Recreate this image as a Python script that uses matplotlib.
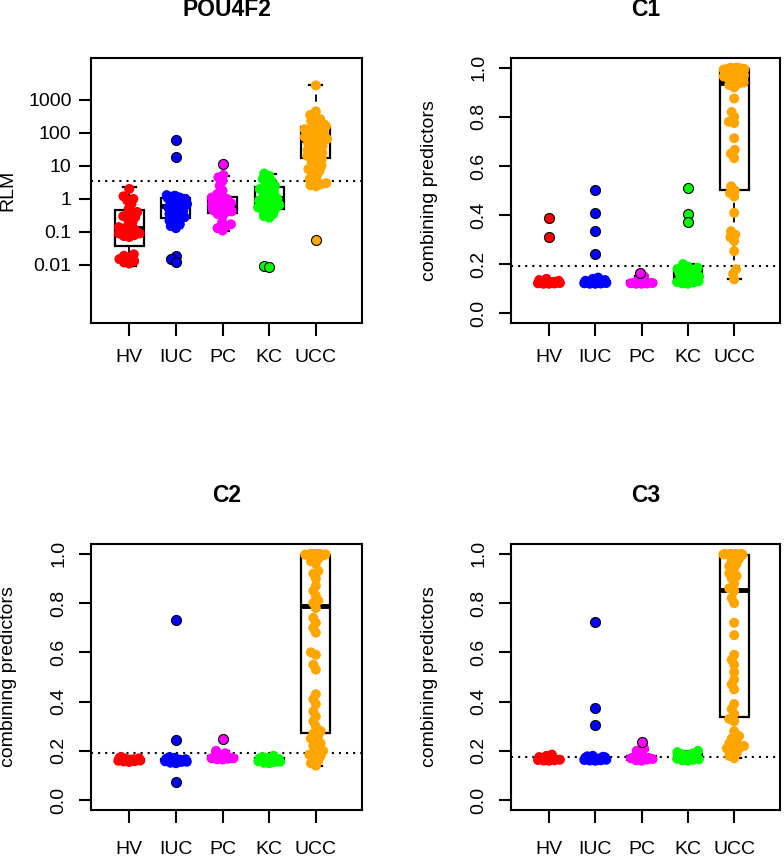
import numpy as np
import matplotlib
matplotlib.use("Agg")
import matplotlib.pyplot as plt

plt.rcParams['font.family'] = ['Liberation Sans', 'DejaVu Sans']

groups = ["HV", "IUC", "PC", "KC", "UCC"]
colors = ["#FF0000", "#0000FF", "#FF00FF", "#00FF00", "#FFA500"]

# ---------------- POU4F2 (RLM, log scale) ----------------
pou_vals = {
    "HV": [0.011, 0.012, 0.013, 0.015, 0.017, 0.019, 0.021,
           0.07, 0.075, 0.08, 0.09, 0.09, 0.10, 0.10, 0.11, 0.12, 0.12, 0.13, 0.14,
           0.16, 0.2, 0.25, 0.28, 0.3, 0.35, 0.4, 0.5, 0.7, 0.9, 1.0, 1.2, 2.0],
    "IUC": [0.13, 0.15, 0.17, 0.2, 0.22, 0.25, 0.28, 0.3, 0.35, 0.4, 0.45, 0.5, 0.55,
            0.6, 0.65, 0.7, 0.8, 0.9, 0.95, 1.0, 1.0, 1.05, 1.1, 1.15, 1.2, 1.25, 1.3],
    "PC": [0.11, 0.13, 0.15, 0.17, 0.2, 0.3, 0.35, 0.4, 0.42, 0.45, 0.5, 0.55, 0.6,
           0.65, 0.7, 0.75, 0.8, 0.9, 0.95, 1.0, 1.1, 1.2, 1.4, 1.8, 2.5, 3.5, 4.5, 5.3],
    "KC": [0.27, 0.3, 0.35, 0.4, 0.45, 0.5, 0.55, 0.6, 0.65, 0.7, 0.8, 0.85, 0.9, 0.95,
           1.0, 1.0, 1.1, 1.2, 1.4, 1.6, 1.8, 2.0, 2.2, 2.5, 3.0, 3.5, 4.0, 5.0, 5.9],
    "UCC": [2.4, 2.6, 2.8, 3.0, 3.5, 4, 5, 6, 7, 8, 9, 10, 12, 14, 16, 18, 20, 22, 25,
            28, 30, 35, 40, 45, 50, 55, 60, 65, 70, 75, 80, 85, 90, 95, 100, 110, 120,
            130, 140, 150, 160, 180, 200, 230, 260, 300, 350, 450, 2750],
}
pou_fliers = {"HV": [], "IUC": [59, 19, 0.018, 0.015, 0.012], "PC": [11.7],
              "KC": [0.0095, 0.0085], "UCC": [0.055]}
pou_whislo = [0.0092, 0.134, 0.106, 0.30, 2.4]
pou_q1 = [0.037, 0.27, 0.38, 0.50, 17.7]
pou_med = [0.134, 0.60, 0.65, 1.09, 60]
pou_q3 = [0.46, 1.09, 1.17, 2.3, 150]
pou_whishi = [2.3, 1.3, 5.1, 5.8, 2750]
pou_cut = 3.45

# ---------------- C1 ----------------
c1_vals = {
    "HV": [0.12, 0.12, 0.121, 0.122, 0.123, 0.124, 0.125, 0.125, 0.126, 0.128, 0.13, 0.132, 0.135, 0.14],
    "IUC": [0.12, 0.12, 0.121, 0.122, 0.123, 0.124, 0.125, 0.126, 0.127, 0.128, 0.13, 0.132, 0.135, 0.14, 0.145],
    "PC": [0.12, 0.12, 0.121, 0.122, 0.123, 0.124, 0.125, 0.126, 0.128, 0.13, 0.14, 0.15],
    "KC": [0.12, 0.122, 0.125, 0.127, 0.13, 0.132, 0.135, 0.137, 0.14, 0.142, 0.145, 0.148,
           0.15, 0.155, 0.16, 0.165, 0.17, 0.175, 0.18, 0.185, 0.19, 0.2],
    "UCC": [1.0, 1.0, 1.0, 0.998, 0.997, 0.995, 0.995, 0.993, 0.99, 0.99, 0.98, 0.97, 0.965,
            0.96, 0.955, 0.95, 0.94, 0.935, 0.93, 0.92, 0.875, 0.82, 0.8, 0.78, 0.775, 0.713,
            0.666, 0.65, 0.632, 0.517, 0.5, 0.49, 0.476, 0.409, 0.334, 0.32, 0.31, 0.294,
            0.253, 0.179, 0.16, 0.138],
}
c1_fliers = {"HV": [0.389, 0.311], "IUC": [0.503, 0.407, 0.334, 0.24], "PC": [0.165],
             "KC": [0.51, 0.405, 0.372], "UCC": []}
c1_whislo = [0.12, 0.12, 0.12, 0.12, 0.138]
c1_q1 = [0.122, 0.123, 0.122, 0.135, 0.503]
c1_med = [0.125, 0.127, 0.125, 0.15, 0.937]
c1_q3 = [0.13, 0.133, 0.13, 0.186, 0.995]
c1_whishi = [0.14, 0.145, 0.15, 0.2, 1.0]
c1_cut = 0.192

# ---------------- C2 ----------------
c2_vals = {
    "HV": [0.155, 0.157, 0.158, 0.16, 0.161, 0.162, 0.163, 0.164, 0.165, 0.166, 0.168, 0.17, 0.172, 0.175],
    "IUC": [0.15, 0.152, 0.155, 0.156, 0.158, 0.16, 0.161, 0.162, 0.163, 0.164, 0.165, 0.166,
            0.168, 0.17, 0.172, 0.175],
    "PC": [0.165, 0.166, 0.168, 0.17, 0.17, 0.172, 0.175, 0.178, 0.18, 0.185, 0.19, 0.2],
    "KC": [0.15, 0.152, 0.155, 0.156, 0.158, 0.16, 0.161, 0.162, 0.163, 0.164, 0.165, 0.167,
           0.17, 0.172, 0.175, 0.18],
    "UCC": [1.0, 1.0, 1.0, 1.0, 0.998, 0.997, 0.995, 0.993, 0.99, 0.98, 0.97, 0.96, 0.93, 0.92,
            0.9, 0.87, 0.85, 0.83, 0.81, 0.8, 0.78, 0.74, 0.72, 0.7, 0.68, 0.6, 0.59, 0.55,
            0.53, 0.43, 0.41, 0.39, 0.36, 0.34, 0.32, 0.3, 0.28, 0.27, 0.26, 0.25, 0.24, 0.23,
            0.22, 0.21, 0.2, 0.19, 0.185, 0.18, 0.17, 0.16, 0.15, 0.14],
}
c2_fliers = {"HV": [], "IUC": [0.732, 0.244, 0.074], "PC": [0.248], "KC": [], "UCC": []}
c2_whislo = [0.155, 0.15, 0.165, 0.15, 0.14]
c2_q1 = [0.16, 0.158, 0.168, 0.158, 0.271]
c2_med = [0.164, 0.163, 0.172, 0.164, 0.789]
c2_q3 = [0.168, 0.168, 0.18, 0.17, 0.996]
c2_whishi = [0.175, 0.175, 0.2, 0.18, 1.0]
c2_cut = 0.19

# ---------------- C3 ----------------
c3_vals = {
    "HV": [0.16, 0.161, 0.162, 0.163, 0.164, 0.165, 0.166, 0.167, 0.168, 0.17, 0.172, 0.175, 0.18, 0.185],
    "IUC": [0.16, 0.161, 0.162, 0.163, 0.164, 0.165, 0.166, 0.167, 0.168, 0.169, 0.17, 0.172,
            0.174, 0.176, 0.178, 0.18],
    "PC": [0.16, 0.162, 0.165, 0.167, 0.17, 0.172, 0.175, 0.18, 0.19, 0.2, 0.21],
    "KC": [0.16, 0.162, 0.164, 0.166, 0.168, 0.17, 0.172, 0.174, 0.176, 0.178, 0.18, 0.183,
           0.186, 0.19, 0.195, 0.2],
    "UCC": [1.0, 1.0, 1.0, 1.0, 0.998, 0.997, 0.995, 0.99, 0.98, 0.97, 0.96, 0.95, 0.94, 0.92,
            0.91, 0.9, 0.88, 0.86, 0.85, 0.82, 0.8, 0.72, 0.67, 0.59, 0.57, 0.55, 0.52, 0.49,
            0.47, 0.45, 0.39, 0.37, 0.35, 0.33, 0.32, 0.28, 0.26, 0.25, 0.24, 0.23, 0.22, 0.22,
            0.21, 0.21, 0.2, 0.19, 0.18, 0.17],
}
c3_fliers = {"HV": [], "IUC": [0.722, 0.375, 0.307], "PC": [0.237], "KC": [], "UCC": []}
c3_whislo = [0.16, 0.16, 0.16, 0.16, 0.17]
c3_q1 = [0.164, 0.164, 0.164, 0.168, 0.339]
c3_med = [0.167, 0.167, 0.168, 0.176, 0.854]
c3_q3 = [0.172, 0.172, 0.178, 0.186, 0.996]
c3_whishi = [0.185, 0.18, 0.205, 0.2, 1.0]
c3_cut = 0.176

panels = [
    dict(title="POU4F2", ylabel="RLM", vals=pou_vals, fliers=pou_fliers, whislo=pou_whislo,
         q1=pou_q1, med=pou_med, q3=pou_q3, whishi=pou_whishi, cut=pou_cut, log=True),
    dict(title="C1", ylabel="combining predictors", vals=c1_vals, fliers=c1_fliers, whislo=c1_whislo,
         q1=c1_q1, med=c1_med, q3=c1_q3, whishi=c1_whishi, cut=c1_cut, log=False),
    dict(title="C2", ylabel="combining predictors", vals=c2_vals, fliers=c2_fliers, whislo=c2_whislo,
         q1=c2_q1, med=c2_med, q3=c2_q3, whishi=c2_whishi, cut=c2_cut, log=False),
    dict(title="C3", ylabel="combining predictors", vals=c3_vals, fliers=c3_fliers, whislo=c3_whislo,
         q1=c3_q1, med=c3_med, q3=c3_q3, whishi=c3_whishi, cut=c3_cut, log=False),
]

W, H = 784, 857
DPI = 100
fig = plt.figure(figsize=(W / DPI, H / DPI), dpi=DPI)

# axes rectangles in pixels (left, top, right, bottom)
rects = [(91, 58, 362, 323), (511, 58, 780, 323), (91, 544, 362, 810), (511, 544, 780, 810)]
xpads = [10, 10, 13, 13]

DOT = 10.0       # dot diameter in px
SPACE = 5.5      # swarm spacing in px
CORRAL = 11.5    # half-width of the swarm corral in px (wrap)


def swarm_x(ax, xc, vals):
    vals = np.asarray(vals, float)
    pts = ax.transData.transform(np.column_stack([np.full(len(vals), xc), vals]))
    ys = pts[:, 1]
    x0 = pts[0, 0]
    order = np.argsort(ys)
    placed = []
    xs = np.zeros(len(vals))
    for i in order:
        y = ys[i]
        near = [(px, py) for px, py in placed if abs(py - y) < SPACE]
        cands = [0.0]
        for px, py in near:
            dx = np.sqrt(SPACE ** 2 - (py - y) ** 2)
            cands += [px + dx, px - dx]
        cands = sorted(cands, key=lambda c: (abs(c), c))
        for c in cands:
            if all((c - px) ** 2 + (y - py) ** 2 >= SPACE ** 2 - 1e-6 for px, py in near):
                xs[i] = c
                break
        placed.append((xs[i], y))
    xs = np.where(np.abs(xs) > CORRAL, ((xs + CORRAL) % (2 * CORRAL)) - CORRAL, xs)
    back = ax.transData.inverted().transform(np.column_stack([x0 + xs, ys]))
    return back[:, 0]


s_dot = (DOT * 72 / DPI) ** 2

for k, p in enumerate(panels):
    l, t, r, b = rects[k]
    ax = fig.add_axes([l / W, 1 - b / H, (r - l) / W, (b - t) / H])

    stats = []
    for i, g in enumerate(groups):
        stats.append(dict(med=p["med"][i], q1=p["q1"][i], q3=p["q3"][i],
                          whislo=p["whislo"][i], whishi=p["whishi"][i], fliers=[]))
    ax.bxp(stats, positions=range(1, 6), widths=0.62, capwidths=0.28, patch_artist=True,
           showfliers=False, manage_ticks=False,
           boxprops=dict(facecolor="white", edgecolor="black", linewidth=1.6),
           medianprops=dict(color="black", linewidth=3.5, solid_capstyle="butt"),
           whiskerprops=dict(color="black", linewidth=1.3, linestyle=(0, (4, 3))),
           capprops=dict(color="black", linewidth=1.6), zorder=1)

    ax.set_xlim(0.18, 5.99)
    if p["log"]:
        ax.set_yscale("log")
        ax.set_ylim(10 ** -3.76, 10 ** 4.27)
        ticks = [0.01, 0.1, 1, 10, 100, 1000]
        ax.set_yticks(ticks)
        ax.set_yticklabels(["0.01", "0.1", "1", "10", "100", "1000"])
        ax.minorticks_off()
        ax.tick_params(axis="y", pad=5)
    else:
        ax.set_ylim(-0.04, 1.04)
        ticks = [0.0, 0.2, 0.4, 0.6, 0.8, 1.0]
        ax.set_yticks(ticks)
        ax.set_yticklabels(["0.0", "0.2", "0.4", "0.6", "0.8", "1.0"], rotation=90, va="center")
        ax.tick_params(axis="y", pad=8)
    ax.set_xticks(range(1, 6))
    ax.set_xticklabels(groups)
    ax.tick_params(axis="x", pad=xpads[k])
    ax.tick_params(length=9, width=1.5, labelsize=14, color="black")
    for sp in ax.spines.values():
        sp.set_linewidth(1.5)

    ax.axhline(p["cut"], color="black", linewidth=1.5, linestyle=(0, (1, 2.4)), zorder=2)

    fig.canvas.draw()
    for i, g in enumerate(groups):
        vals = list(p["vals"][g])
        fl = list(p["fliers"][g])
        allv = vals + fl
        xs = swarm_x(ax, i + 1, allv)
        n = len(vals)
        ax.scatter(xs[:n], vals, s=s_dot, color=colors[i], edgecolors="none", zorder=3)
        if fl:
            ax.scatter(xs[n:], fl, s=s_dot, color=colors[i], edgecolors="black",
                       linewidths=0.8, zorder=4)

    fig.text((l + r) / 2 / W, 1 - [10, 10, 496, 496][k] / H, p["title"], fontsize=16.5,
             fontweight="bold", ha="center", va="center")
    fig.text([8, 429, 9, 429][k] / W, 1 - (t + b) / 2 / H, p["ylabel"], fontsize=14,
             rotation=90, ha="center", va="center")

fig.savefig("out.png", dpi=DPI)
